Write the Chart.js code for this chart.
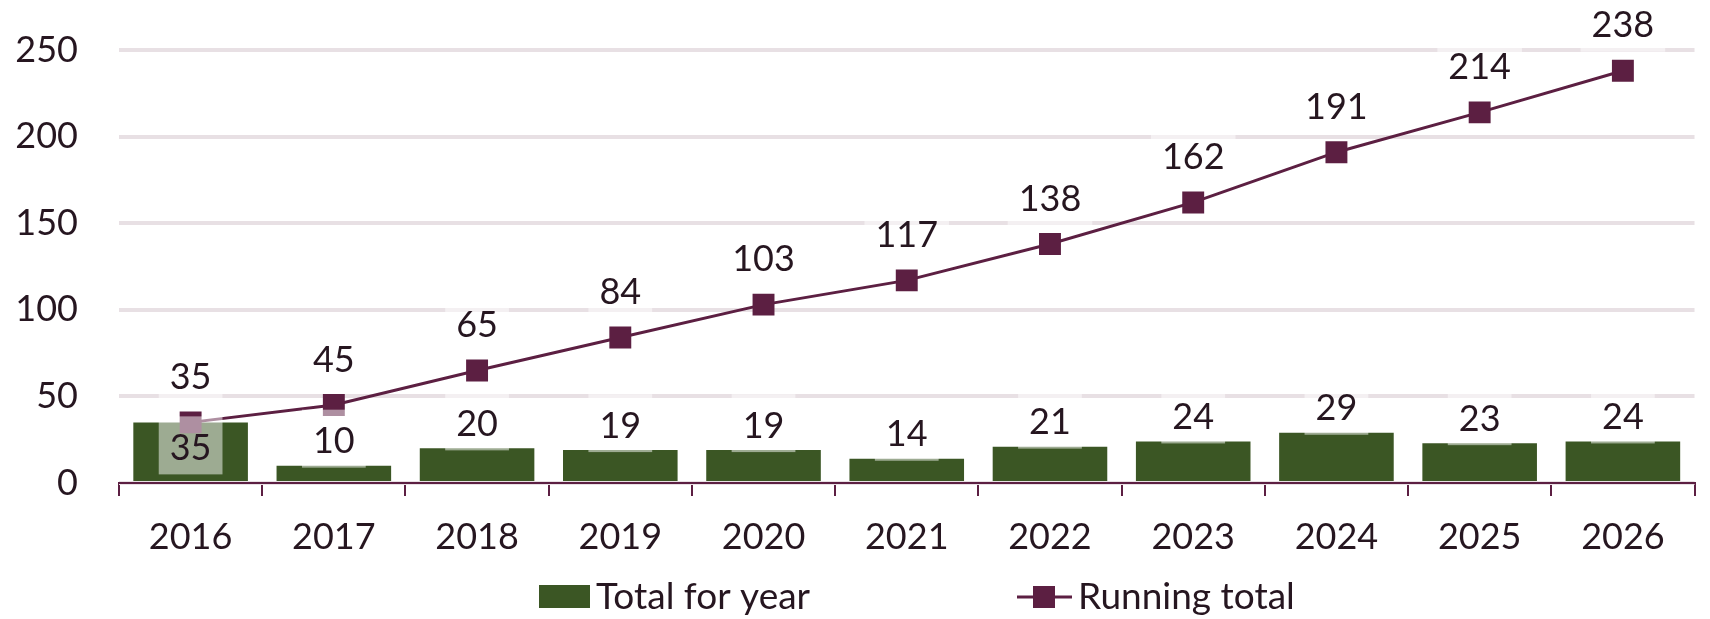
<!DOCTYPE html>
<html>
<head>
<meta charset="utf-8">
<script src="https://cdn.jsdelivr.net/npm/chart.js@4.4.0/dist/chart.umd.min.js"></script>
<style>
  html, body { margin: 0; padding: 0; background: #fff; }
  #wrap { width: 1710px; height: 619px; position: relative; }
</style>
</head>
<body>
<div id="wrap"><canvas id="yearsChart" width="1710" height="619"></canvas></div>
<script>
// ---- data ----
const years = ['2016', '2017', '2018', '2019', '2020', '2021', '2022', '2023', '2024', '2025', '2026'];
const totalForYear = [35, 10, 20, 19, 19, 14, 21, 24, 29, 23, 24];
const runningTotal = [35, 45, 65, 84, 103, 117, 138, 162, 191, 214, 238];
const yTicks = [0, 50, 100, 150, 200, 250];

const seriesNames = ['Total for year', 'Running total'];

// ---- look ----
const GREEN = '#3b5624';
const MAROON = '#5c1f42';
const TEXT = '#261620';
const GRID = '#e8e0e4';
const FONT = 'Lato, "Open Sans", sans-serif';
const FONT_SIZE = 36;

// white, half see-through box behind every value label
function drawValueLabel(ctx, text, x, y) {
  const w = ctx.measureText(text).width + 22;
  ctx.fillStyle = 'rgba(255,255,255,0.5)';
  ctx.fillRect(x - w / 2, y - 31, w, 58);
  ctx.fillStyle = TEXT;
  ctx.fillText(text, x, y + 1);
}

const valueLabels = {
  id: 'valueLabels',
  afterDatasetsDraw(chart) {
    const ctx = chart.ctx;
    const barMeta = chart.getDatasetMeta(0);
    const lineMeta = chart.getDatasetMeta(1);
    ctx.save();
    ctx.font = `${FONT_SIZE}px ${FONT}`;
    ctx.textAlign = 'center';
    ctx.textBaseline = 'middle';
    // running total labels sit above the markers
    lineMeta.data.forEach((pt, i) => {
      drawValueLabel(ctx, String(runningTotal[i]), pt.x, pt.y - 46);
    });
    // yearly labels above the bar, or inside it when the marker is in the way
    barMeta.data.forEach((bar, i) => {
      let y = bar.y - 25;
      if (Math.abs(y - lineMeta.data[i].y) < 30) y = bar.y + 25;
      drawValueLabel(ctx, String(totalForYear[i]), bar.x, y);
    });
    ctx.restore();
  }
};

// legend drawn by hand so the line entry shows line + square marker
const bottomLegend = {
  id: 'bottomLegend',
  afterDraw(chart) {
    const ctx = chart.ctx;
    const cy = 597;
    ctx.save();
    ctx.font = `37px ${FONT}`;
    ctx.textBaseline = 'middle';
    ctx.textAlign = 'left';

    // bar entry
    ctx.fillStyle = GREEN;
    ctx.fillRect(539, 585, 51, 23);
    ctx.fillStyle = TEXT;
    ctx.fillText(seriesNames[0], 596, cy);

    // line entry
    ctx.strokeStyle = MAROON;
    ctx.lineWidth = 3;
    ctx.beginPath();
    ctx.moveTo(1017, cy);
    ctx.lineTo(1072, cy);
    ctx.stroke();
    ctx.fillStyle = MAROON;
    ctx.fillRect(1033, cy - 11, 22, 22);
    ctx.fillStyle = TEXT;
    ctx.fillText(seriesNames[1], 1078, cy);
    ctx.restore();
  }
};

new Chart(document.getElementById('yearsChart'), {
  type: 'bar',
  data: {
    labels: years,
    datasets: [
      {
        label: seriesNames[0],
        data: totalForYear,
        backgroundColor: GREEN,
        barPercentage: 0.8,
        categoryPercentage: 1,
        order: 2
      },
      {
        type: 'line',
        label: seriesNames[1],
        data: runningTotal,
        borderColor: MAROON,
        borderWidth: 3,
        pointStyle: 'rect',
        pointRadius: 15.5,
        pointBackgroundColor: MAROON,
        pointBorderWidth: 0,
        tension: 0,
        fill: false,
        order: 1
      }
    ]
  },
  options: {
    responsive: false,
    animation: false,
    devicePixelRatio: 1,
    layout: { padding: { top: 50, right: 0, bottom: 60, left: 0 } },
    plugins: {
      legend: { display: false },
      tooltip: { enabled: false }
    },
    scales: {
      x: {
        offset: true,
        grid: {
          offset: true,
          drawOnChartArea: false,
          drawTicks: true,
          tickLength: 13,
          color: MAROON,
          lineWidth: 2
        },
        border: { display: true, color: MAROON, width: 2 },
        ticks: { color: TEXT, font: { family: FONT, size: FONT_SIZE }, padding: 20, maxRotation: 0 },
        afterFit: (scale) => { scale.height = 76; }
      },
      y: {
        min: 0,
        max: 250,
        afterBuildTicks: (scale) => { scale.ticks = yTicks.map(v => ({ value: v })); },
        grid: { color: GRID, lineWidth: 4, drawTicks: false },
        border: { display: false },
        ticks: { color: TEXT, font: { family: FONT, size: FONT_SIZE }, padding: 41 },
        afterFit: (scale) => {
          scale.width = 119;
          // keep the big label gap from pushing the plot down
          scale.paddingTop = 22;
          scale.paddingBottom = 22;
        }
      }
    }
  },
  plugins: [valueLabels, bottomLegend]
});
</script>
</body>
</html>
